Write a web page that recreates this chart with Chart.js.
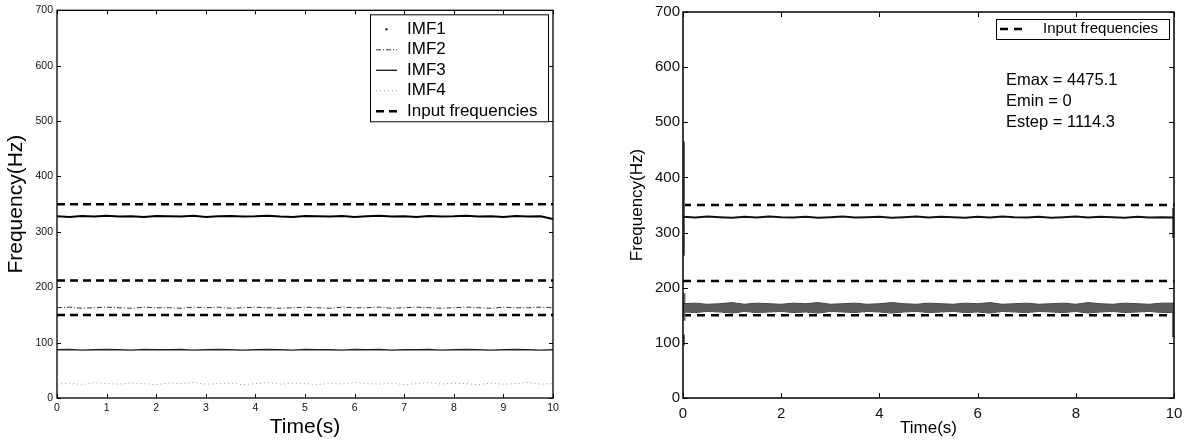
<!DOCTYPE html>
<html>
<head>
<meta charset="utf-8">
<title>Instantaneous frequency</title>
<script src="https://cdn.jsdelivr.net/npm/chart.js@4/dist/chart.umd.min.js"></script>
<style>
  html, body { margin: 0; padding: 0; background: #fff; }
  #wrap { position: relative; width: 1190px; height: 443px; overflow: hidden; }
  canvas { position: absolute; top: 0; }
  #imfChart { left: 0; }
  #hhtChart { left: 600px; }
</style>
</head>
<body>
<div id="wrap">
  <canvas id="imfChart" width="575" height="443"></canvas>
  <canvas id="hhtChart" width="590" height="443"></canvas>
</div>
<script>
'use strict';

/* ---- data (Hz over time in s) ---- */
var time = [0, 0.25, 0.5, 0.75, 1, 1.25, 1.5, 1.75, 2, 2.25, 2.5, 2.75, 3, 3.25, 3.5, 3.75, 4, 4.25, 4.5, 4.75,
            5, 5.25, 5.5, 5.75, 6, 6.25, 6.5, 6.75, 7, 7.25, 7.5, 7.75, 8, 8.25, 8.5, 8.75, 9, 9.25, 9.5, 9.75, 10];

var inputFreqs = [350, 212, 150];

// left panel: one trace per IMF
var imf1 = [328, 327, 328.5, 327.5, 329, 327.5, 328, 327, 328.5, 328, 327.5, 329, 327, 328, 328.5, 327.5, 328, 329, 327.5, 327,
            328.5, 328, 327.5, 328.5, 327, 328, 329, 327.5, 328, 327, 328.5, 327.5, 328, 329, 327.5, 328, 327, 328.5, 327.5, 328, 323];
var imf2 = [163, 164, 162, 163, 164, 163, 162, 164, 163, 163, 162, 164, 163, 164, 162, 163, 164, 163, 162, 163,
            164, 163, 162, 164, 163, 163, 164, 162, 163, 164, 163, 162, 163, 164, 163, 162, 164, 163, 163, 164, 163];
var imf3 = [87, 87.5, 86.5, 87, 87.5, 87, 86.5, 87.5, 87, 87, 87.5, 86.5, 87, 87.5, 87, 86.5, 87, 87.5, 87, 86.5,
            87.5, 87, 87, 86.5, 87.5, 87, 87.5, 86.5, 87, 87, 87.5, 86.5, 87, 87.5, 87, 86.5, 87, 87.5, 87, 86.5, 87];
var imf4 = [25, 27, 24, 28, 26, 25, 27, 26, 24, 27, 26, 28, 25, 26, 27, 24, 26, 28, 25, 27,
            26, 24, 27, 25, 28, 26, 25, 27, 24, 26, 28, 25, 27, 26, 24, 27, 25, 26, 28, 25, 26];

// right panel: upper component and the envelope of the lower band
var upperTrace = [328.5, 327.5, 329, 328, 327, 328.5, 327.5, 329, 328, 327.5, 328.5, 327, 328, 329, 327.5, 328, 328.5, 327, 328, 329,
                  327.5, 328.5, 328, 327, 328.5, 327.5, 329, 328, 327.5, 328.5, 327, 328, 329, 327.5, 328.5, 328, 327, 328.5, 327.5, 328, 327.5];
var bandTop = [171, 172, 170, 171, 173, 170, 172, 171, 170, 172, 171, 173, 170, 171, 172, 170, 171, 173, 171, 170,
               172, 171, 170, 172, 171, 173, 170, 171, 172, 170, 171, 172, 170, 173, 171, 170, 172, 171, 170, 172, 172];
var bandMid = [160, 168, 159, 167, 161, 169, 158, 166, 162, 168, 159, 167, 160, 169, 161, 166, 158, 168, 162, 167,
               159, 169, 160, 166, 161, 168, 158, 167, 162, 169, 160, 166, 159, 168, 161, 167, 158, 169, 160, 166, 163];
var bandBottom = [156, 155, 157, 156, 154, 157, 155, 156, 157, 155, 156, 154, 157, 156, 155, 157, 156, 154, 156, 157,
                  155, 156, 157, 155, 156, 154, 157, 156, 155, 157, 156, 155, 157, 154, 156, 157, 155, 156, 157, 155, 155];

// end-effect transients (null breaks the segments)
var transTime = [0.02, 0.02, 0.02, 0.03, 0.03, 0.03, 0.02, 0.02, 0.02, 9.98, 9.98, 9.98, 9.98, 9.98];
var transFreq = [465, 258, null, 190, 140, null, 115, 95, null, 345, 290, null, 172, 110];

var xTicksLeft = [0, 1, 2, 3, 4, 5, 6, 7, 8, 9, 10];
var xTicksRight = [0, 2, 4, 6, 8, 10];
var yTicks = [0, 100, 200, 300, 400, 500, 600, 700];

var FONT = '"Liberation Sans", Arial, Helvetica, sans-serif';

function series(ys) {
    return ys.map(function (v, i) { return { x: time[i], y: v }; });
}
function flat(f) {
    return [{ x: time[0], y: f }, { x: time[time.length - 1], y: f }];
}

/* box round the plot area, with inward ticks on all four sides */
var frameTicks = {
    id: 'frameTicks',
    afterDatasetsDraw: function (chart, args, opts) {
        var ctx = chart.ctx, a = chart.chartArea, x = chart.scales.x, y = chart.scales.y;
        ctx.save();
        ctx.strokeStyle = '#000';
        ctx.lineWidth = opts.lineWidth;
        ctx.strokeRect(a.left, a.top, a.right - a.left, a.bottom - a.top);
        ctx.lineWidth = 1;
        ctx.beginPath();
        x.ticks.forEach(function (t) {
            var px = Math.round(x.getPixelForValue(t.value)) + 0.5;
            ctx.moveTo(px, a.bottom); ctx.lineTo(px, a.bottom - opts.len);
            ctx.moveTo(px, a.top); ctx.lineTo(px, a.top + opts.len);
        });
        y.ticks.forEach(function (t) {
            var py = Math.round(y.getPixelForValue(t.value)) + 0.5;
            ctx.moveTo(a.left, py); ctx.lineTo(a.left + opts.len, py);
            ctx.moveTo(a.right, py); ctx.lineTo(a.right - opts.len, py);
        });
        ctx.stroke();
        ctx.restore();
    }
};

/* legend box in the upper right corner, plus optional text notes */
var boxLegend = {
    id: 'boxLegend',
    afterDraw: function (chart, args, o) {
        var ctx = chart.ctx, a = chart.chartArea;
        var right = a.right - o.right, left = right - o.width, top = a.top + o.top;
        ctx.save();
        ctx.fillStyle = '#fff';
        ctx.fillRect(left, top, o.width, o.height);
        ctx.strokeStyle = '#000';
        ctx.lineWidth = 1;
        ctx.strokeRect(left + 0.5, top + 0.5, o.width, o.height);
        ctx.font = o.size + 'px ' + FONT;
        ctx.textBaseline = 'middle';
        var shown = chart.data.datasets.filter(function (d) { return d.legendLabel; });
        shown.forEach(function (d, i) {
            var cy = top + o.first + i * o.row;
            var x0 = left + o.sample[0], x1 = left + o.sample[1];
            ctx.strokeStyle = d.borderColor;
            ctx.fillStyle = d.borderColor;
            if (d.legendMarker === 'dot') {
                ctx.fillRect((x0 + x1) / 2 - 1, cy - 1, 2, 2);
            } else {
                ctx.lineWidth = d.borderWidth;
                ctx.setLineDash(d.borderDash || []);
                ctx.beginPath();
                ctx.moveTo(x0, cy); ctx.lineTo(x1, cy);
                ctx.stroke();
                ctx.setLineDash([]);
            }
            ctx.fillStyle = '#000';
            ctx.fillText(d.legendLabel, left + o.text, cy);
        });
        (o.notes || []).forEach(function (n, i) {
            ctx.font = o.noteSize + 'px ' + FONT;
            ctx.fillText(n, a.left + o.noteX, a.top + o.noteY + i * o.noteRow);
        });
        ctx.restore();
    }
};

function axes(cfg) {
    return {
        x: {
            type: 'linear', min: 0, max: 10,
            afterBuildTicks: function (s) { s.ticks = cfg.xTicks.map(function (v) { return { value: v }; }); },
            afterFit: function (s) { s.height = cfg.xHeight; },
            grid: { display: false, drawTicks: false },
            border: { display: false },
            ticks: { color: '#111', padding: cfg.xPad, maxRotation: 0, autoSkip: false,
                     font: { family: FONT, size: cfg.tickSize } },
            title: { display: true, text: 'Time(s)', color: '#000',
                     padding: { top: 0, bottom: cfg.xTitlePad },
                     font: { family: FONT, size: cfg.titleSize } }
        },
        y: {
            type: 'linear', min: 0, max: 700,
            afterBuildTicks: function (s) { s.ticks = yTicks.map(function (v) { return { value: v }; }); },
            afterFit: function (s) { s.width = cfg.yWidth; },
            grid: { display: false, drawTicks: false },
            border: { display: false },
            ticks: { color: '#111', padding: cfg.yPad, autoSkip: false,
                     font: { family: FONT, size: cfg.tickSize } },
            title: { display: true, text: 'Frequency(Hz)', color: '#000',
                     padding: { top: cfg.yTitlePad, bottom: 0 },
                     font: { family: FONT, size: cfg.titleSize } }
        }
    };
}

function inputLines(dash) {
    return inputFreqs.map(function (f, i) {
        return {
            data: flat(f), borderColor: '#000', borderWidth: 2.5, borderDash: dash,
            legendLabel: i === 0 ? 'Input frequencies' : null
        };
    });
}

var common = {
    responsive: false, animation: false, devicePixelRatio: 1,
    elements: { point: { radius: 0 }, line: { tension: 0, fill: false } },
    plugins: { legend: { display: false }, tooltip: { enabled: false } }
};

/* left: instantaneous frequency of each IMF */
new Chart(document.getElementById('imfChart'), {
    type: 'line',
    data: {
        datasets: [
            { data: series(imf1), borderColor: '#000', borderWidth: 2, legendLabel: 'IMF1', legendMarker: 'dot' },
            { data: series(imf2), borderColor: '#333', borderWidth: 1, borderDash: [5, 2, 1, 2], legendLabel: 'IMF2' },
            { data: series(imf3), borderColor: '#222', borderWidth: 1.4, legendLabel: 'IMF3' },
            { data: series(imf4), borderColor: '#999', borderWidth: 1, borderDash: [1, 3], legendLabel: 'IMF4' }
        ].concat(inputLines([8, 5]))
    },
    options: Object.assign({}, common, {
        layout: { padding: { top: 6, right: 22, left: 0, bottom: 0 } },
        scales: axes({ xTicks: xTicksLeft, xHeight: 45, yWidth: 57, tickSize: 10.5, titleSize: 21,
                       xPad: 4, yPad: 4, xTitlePad: 3, yTitlePad: 4 }),
        plugins: Object.assign({}, common.plugins, {
            frameTicks: { lineWidth: 1.3, len: 4 },
            boxLegend: { right: 5, top: 4, width: 178, height: 107, row: 20.5, first: 15,
                         sample: [6, 27], text: 37, size: 17 }
        })
    }),
    plugins: [frameTicks, boxLegend]
});

/* right: Hilbert spectrum traces */
new Chart(document.getElementById('hhtChart'), {
    type: 'line',
    data: {
        datasets: [
            { data: series(bandTop), borderColor: '#444', borderWidth: 1, fill: '+2', backgroundColor: '#5c5c5c' },
            { data: series(bandMid), borderColor: '#b5b5b5', borderWidth: 0.8 },
            { data: series(bandBottom), borderColor: '#444', borderWidth: 1 },
            { data: series(upperTrace), borderColor: '#111', borderWidth: 2 },
            { data: transTime.map(function (t, i) { return { x: t, y: transFreq[i] }; }),
              borderColor: '#666', borderWidth: 2, spanGaps: false }
        ].concat(inputLines([8, 6]))
    },
    options: Object.assign({}, common, {
        layout: { padding: { top: 12, right: 16, left: 0, bottom: 0 } },
        scales: axes({ xTicks: xTicksRight, xHeight: 45, yWidth: 83, tickSize: 15, titleSize: 17,
                       xPad: 7, yPad: 3, xTitlePad: 4, yTitlePad: 27 }),
        plugins: Object.assign({}, common.plugins, {
            frameTicks: { lineWidth: 1.5, len: 5 },
            boxLegend: { right: 5, top: 7, width: 173, height: 20, row: 20, first: 10,
                         sample: [4, 27], text: 47, size: 15,
                         notes: ['Emax = 4475.1', 'Emin = 0', 'Estep = 1114.3'],
                         noteSize: 16.5, noteX: 323, noteY: 68, noteRow: 21 }
        })
    }),
    plugins: [frameTicks, boxLegend]
});
</script>
</body>
</html>
